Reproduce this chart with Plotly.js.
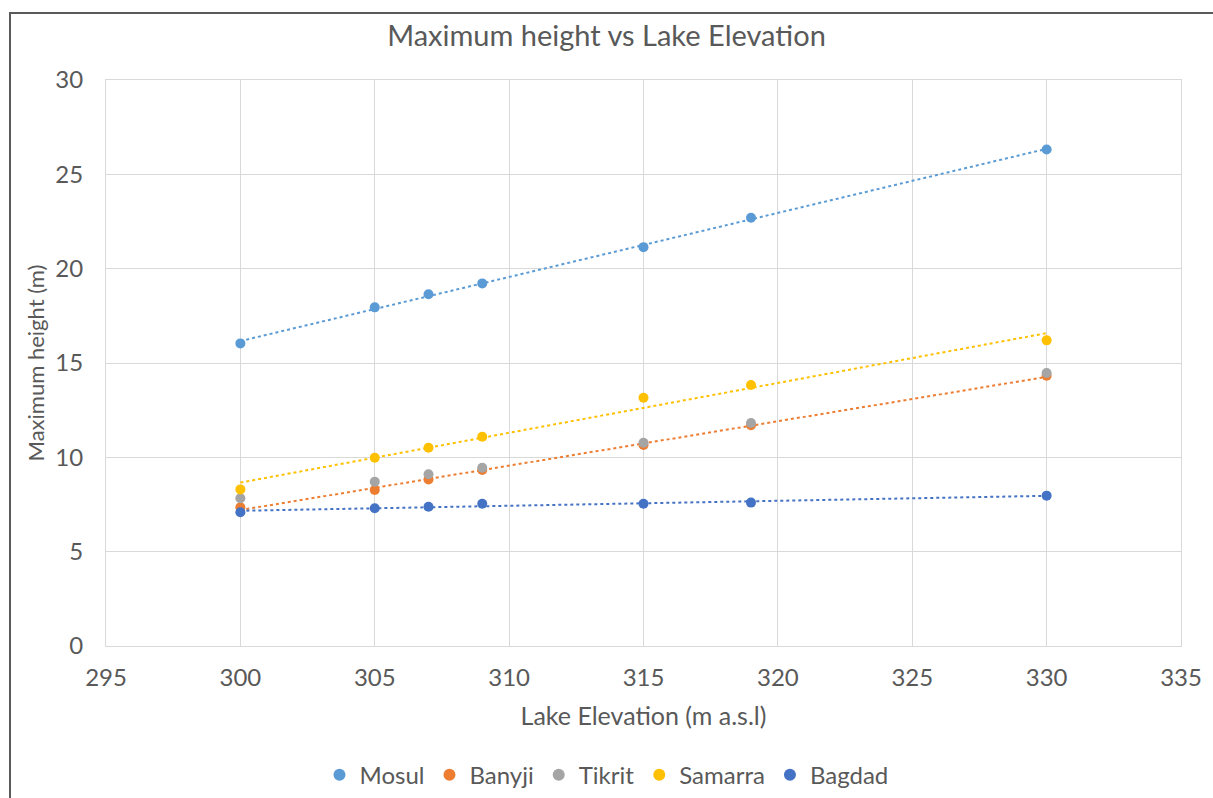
<!DOCTYPE html>
<html>
<head>
<meta charset="utf-8">
<script src="https://cdn.plot.ly/plotly-3.0.1.min.js"></script>
<style>
  html, body { margin: 0; padding: 0; background: #ffffff; overflow: hidden; }
  #frame {
    position: absolute; left: 9px; top: 12px; width: 1220px; height: 800px;
    border-left: 2px solid #5a5a5a; border-top: 2px solid #5a5a5a;
    box-sizing: border-box; pointer-events: none; z-index: 5;
  }
  #chart { width: 1213px; height: 798px; }
</style>
</head>
<body>
<div id="chart"></div>
<div id="frame"></div>
<script>
// Lake elevation (m a.s.l) and the maximum height reached at each city (m)
const elevation = [300, 305, 307, 309, 315, 319, 330];
const mosul   = [16.04, 17.95, 18.64, 19.22, 21.14, 22.70, 26.32];
const banyji  = [7.35, 8.27, 8.83, 9.33, 10.65, 11.70, 14.32];
const tikrit  = [7.83, 8.71, 9.10, 9.45, 10.77, 11.82, 14.47];
const samarra = [8.30, 9.98, 10.51, 11.09, 13.16, 13.83, 16.20];
const bagdad  = [7.09, 7.30, 7.38, 7.54, 7.54, 7.60, 7.97];

const seriesNames  = ['Mosul', 'Banyji', 'Tikrit', 'Samarra', 'Bagdad'];
const seriesValues = [mosul, banyji, tikrit, samarra, bagdad];
const seriesColors = ['#5B9BD5', '#ED7D31', '#A5A5A5', '#FFC000', '#4472C4'];
const withTrend    = [true, true, false, true, true];

// least-squares straight line through a series
function linearFit(xs, ys) {
  const n = xs.length;
  const mx = xs.reduce((a, b) => a + b, 0) / n;
  const my = ys.reduce((a, b) => a + b, 0) / n;
  let sxy = 0, sxx = 0;
  for (let i = 0; i < n; i++) { sxy += (xs[i] - mx) * (ys[i] - my); sxx += (xs[i] - mx) ** 2; }
  const slope = sxy / sxx;
  return x => my + slope * (x - mx);
}

const traces = [];
// dotted trend lines underneath the points
seriesValues.forEach((ys, i) => {
  if (!withTrend[i]) return;
  const f = linearFit(elevation, ys);
  const x0 = elevation[0], x1 = elevation[elevation.length - 1];
  traces.push({
    x: [x0, x1], y: [f(x0), f(x1)], type: 'scatter', mode: 'lines',
    line: { color: seriesColors[i], width: 2, dash: 'dot' },
    showlegend: false, hoverinfo: 'skip'
  });
});
seriesValues.forEach((ys, i) => {
  traces.push({
    x: elevation, y: ys, name: seriesNames[i], type: 'scatter', mode: 'markers',
    marker: { color: seriesColors[i], size: 10 }
  });
});

const fontFamily = 'Lato, "Open Sans", sans-serif';
const layout = {
  width: 1213, height: 798,
  margin: { l: 106, r: 32, t: 80, b: 152, autoexpand: false },
  paper_bgcolor: '#ffffff', plot_bgcolor: '#ffffff',
  font: { family: fontFamily, color: '#595959', size: 24 },
  title: { text: 'Maximum height vs Lake Elevation', x: 0.5, xanchor: 'center', y: 0.955, yanchor: 'middle',
           font: { size: 29, color: '#595959' } },
  xaxis: {
    range: [295, 335], dtick: 5, tick0: 295, automargin: false,
    showgrid: true, gridcolor: '#D9D9D9', gridwidth: 1,
    zeroline: false, showline: true, linecolor: '#D9D9D9', mirror: true,
    ticks: '', ticklabelstandoff: 10, tickfont: { size: 24, color: '#595959' },
    title: { text: 'Lake Elevation (m a.s.l)', standoff: 17, font: { size: 25, color: '#595959' } }
  },
  yaxis: {
    range: [0, 30], dtick: 5, tick0: 0, automargin: false,
    showgrid: true, gridcolor: '#D9D9D9', gridwidth: 1,
    zeroline: false, showline: true, linecolor: '#D9D9D9', mirror: true,
    ticks: '', ticklabelstandoff: 17, tickfont: { size: 24, color: '#595959' },
    title: { text: 'Maximum height (m)', standoff: 4, font: { size: 22, color: '#595959' } }
  },
  legend: { orientation: 'h', xref: 'container', x: 0.5, xanchor: 'center', y: -0.228, yanchor: 'middle',
            font: { size: 24, color: '#595959' }, itemsizing: 'constant' },
  showlegend: true
};

Plotly.newPlot('chart', traces, layout, { staticPlot: true, displayModeBar: false });
</script>
</body>
</html>
